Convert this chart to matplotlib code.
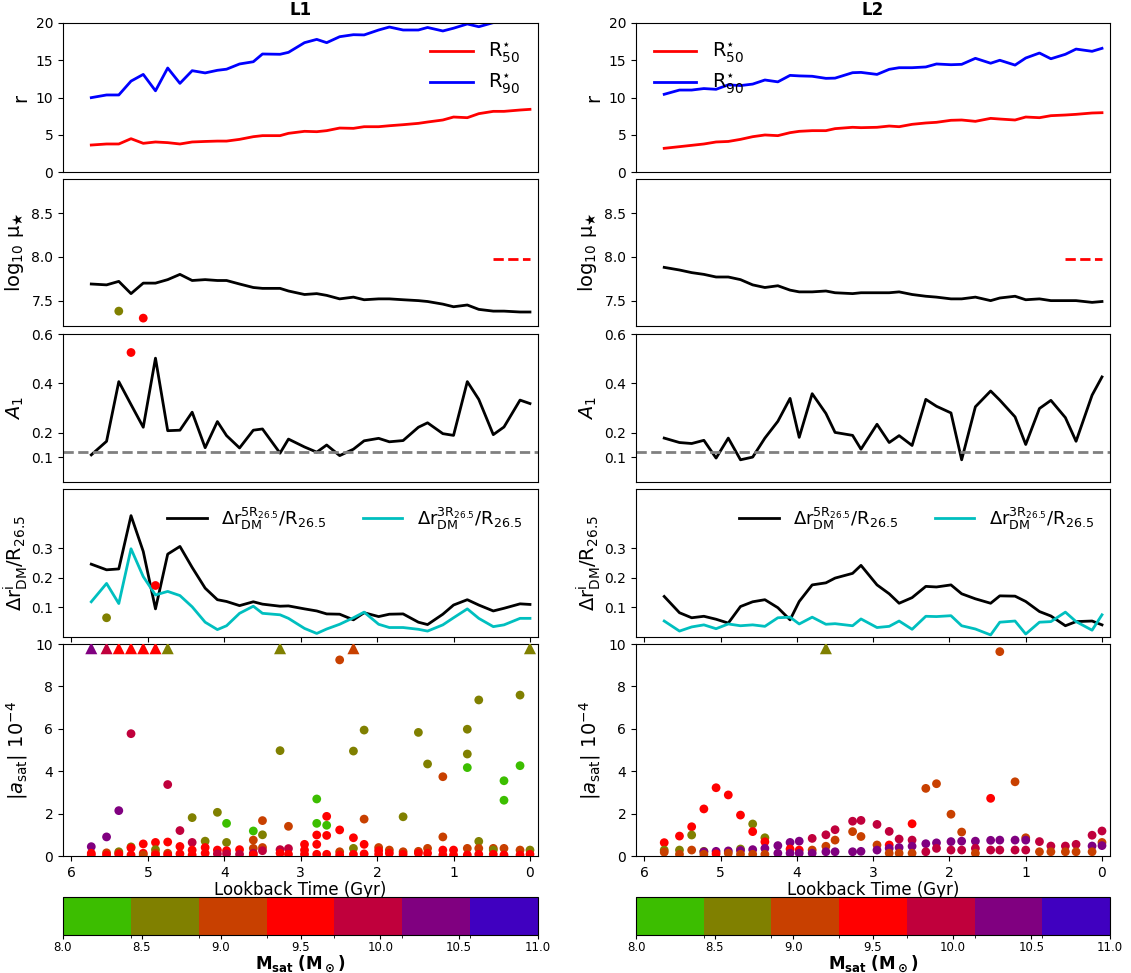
import numpy as np
import matplotlib
matplotlib.use("Agg")
from matplotlib import pyplot as plt
from matplotlib.colors import ListedColormap, BoundaryNorm
from matplotlib.cm import ScalarMappable

# lookback times of the snapshots (Gyr)
times = [5.74, 5.54, 5.38, 5.22, 5.06, 4.90, 4.74, 4.58, 4.42, 4.25,
         4.09, 3.97, 3.80, 3.62, 3.50, 3.27, 3.16, 2.95, 2.79, 2.66,
         2.49, 2.31, 2.17, 1.98, 1.84, 1.66, 1.46, 1.34, 1.14, 1.00,
         0.82, 0.67, 0.48, 0.34, 0.13, 0.0]

# ---- L1 ----
l1_r50 = [3.62, 3.76, 3.76, 4.47, 3.85, 4.03, 3.94, 3.76, 4.03, 4.10,
          4.15, 4.15, 4.38, 4.74, 4.88, 4.88, 5.19, 5.46, 5.41, 5.55,
          5.90, 5.86, 6.08, 6.08, 6.21, 6.35, 6.53, 6.71, 6.98, 7.38,
          7.29, 7.83, 8.14, 8.14, 8.32, 8.41]
l1_r90 = [9.98, 10.34, 10.34, 12.2, 13.1, 10.9, 13.96, 11.9, 13.6, 13.3,
          13.65, 13.8, 14.5, 14.8, 15.84, 15.8, 16.06, 17.36, 17.8, 17.36,
          18.16, 18.43, 18.4, 19.06, 19.46, 19.06, 19.06, 19.4, 18.93, 19.3,
          19.87, 19.5, 20.05, 20.4, 20.7, 21.0]
l1_mu = [7.69, 7.68, 7.72, 7.58, 7.70, 7.70, 7.74, 7.80, 7.73, 7.74,
         7.73, 7.73, 7.69, 7.65, 7.64, 7.64, 7.61, 7.57, 7.58, 7.56,
         7.52, 7.54, 7.51, 7.52, 7.52, 7.51, 7.50, 7.49, 7.46, 7.43,
         7.45, 7.40, 7.38, 7.38, 7.37, 7.37]
l1_a1 = [0.110, 0.165, 0.407, 0.314, 0.222, 0.502, 0.208, 0.210, 0.283, 0.139,
         0.245, 0.188, 0.138, 0.210, 0.215, 0.117, 0.174, 0.142, 0.121, 0.150,
         0.107, 0.133, 0.167, 0.177, 0.163, 0.168, 0.222, 0.240, 0.196, 0.189,
         0.407, 0.335, 0.192, 0.223, 0.332, 0.318]
l1_dr5 = [0.246, 0.227, 0.230, 0.410, 0.289, 0.095, 0.280, 0.306, 0.235, 0.165,
          0.126, 0.120, 0.106, 0.119, 0.111, 0.104, 0.105, 0.095, 0.088, 0.078,
          0.077, 0.058, 0.082, 0.069, 0.077, 0.078, 0.050, 0.042, 0.077, 0.108,
          0.126, 0.108, 0.088, 0.097, 0.112, 0.110]
l1_dr3 = [0.119, 0.181, 0.113, 0.298, 0.204, 0.142, 0.154, 0.140, 0.102, 0.050,
          0.025, 0.038, 0.080, 0.104, 0.080, 0.075, 0.063, 0.029, 0.012, 0.027,
          0.043, 0.065, 0.084, 0.043, 0.032, 0.032, 0.026, 0.020, 0.041, 0.065,
          0.095, 0.063, 0.035, 0.041, 0.063, 0.063]

# ---- L2 ----
l2_r50 = [3.18, 3.40, 3.58, 3.76, 4.03, 4.10, 4.38, 4.74, 4.97, 4.88,
          5.28, 5.46, 5.55, 5.55, 5.82, 6.00, 5.95, 6.00, 6.17, 6.08,
          6.40, 6.58, 6.67, 6.94, 6.98, 6.80, 7.20, 7.11, 6.98, 7.38,
          7.29, 7.56, 7.65, 7.74, 7.92, 7.96]
l2_r90 = [10.43, 11.0, 11.0, 11.2, 11.1, 11.7, 11.6, 11.8, 12.35, 12.1,
          12.97, 12.9, 12.85, 12.57, 12.6, 13.33, 13.37, 13.1, 13.78, 14.0,
          14.0, 14.1, 14.5, 14.4, 14.45, 15.26, 14.6, 15.0, 14.35, 15.3,
          15.97, 15.2, 15.8, 16.5, 16.2, 16.6]
l2_mu = [7.88, 7.85, 7.82, 7.80, 7.77, 7.77, 7.74, 7.68, 7.65, 7.67,
         7.62, 7.60, 7.60, 7.61, 7.59, 7.58, 7.59, 7.59, 7.59, 7.60,
         7.57, 7.55, 7.54, 7.52, 7.52, 7.54, 7.50, 7.53, 7.55, 7.51,
         7.52, 7.50, 7.50, 7.50, 7.48, 7.49]
l2_a1 = [0.178, 0.160, 0.156, 0.169, 0.097, 0.178, 0.090, 0.101, 0.178, 0.246,
         0.339, 0.181, 0.358, 0.278, 0.201, 0.189, 0.133, 0.234, 0.160, 0.188,
         0.148, 0.335, 0.307, 0.280, 0.090, 0.305, 0.369, 0.332, 0.264, 0.152,
         0.298, 0.331, 0.261, 0.165, 0.352, 0.426]
l2_dr5 = [0.137, 0.082, 0.065, 0.070, 0.060, 0.047, 0.103, 0.119, 0.126, 0.099,
          0.058, 0.120, 0.176, 0.183, 0.199, 0.215, 0.242, 0.176, 0.146, 0.114,
          0.133, 0.171, 0.169, 0.176, 0.146, 0.129, 0.114, 0.139, 0.138, 0.120,
          0.086, 0.071, 0.038, 0.052, 0.054, 0.041]
l2_dr3 = [0.054, 0.020, 0.034, 0.041, 0.028, 0.044, 0.038, 0.041, 0.036, 0.065,
          0.067, 0.044, 0.067, 0.043, 0.045, 0.038, 0.061, 0.032, 0.036, 0.054,
          0.026, 0.070, 0.069, 0.072, 0.038, 0.027, 0.007, 0.050, 0.054, 0.010,
          0.050, 0.052, 0.084, 0.052, 0.023, 0.075]

# reference surface density and A1 threshold
mu_ref = 7.98
mu_ref_times = [0.48, 0.34, 0.13, 0.0]
a1_floor = 0.12

# satellite mass classes (log Msat)
G, O, B, R, C, P, V = 8.2, 8.6, 9.1, 9.5, 9.9, 10.3, 10.8

# satellites (time, |a_sat|, mass)
l1_sats = [
    (5.74, 0.44, P), (5.74, 0.13, R), (5.74, 0.05, R),
    (5.54, 0.90, P), (5.54, 0.15, B), (5.54, 0.05, R),
    (5.38, 2.14, P), (5.38, 0.20, O), (5.38, 0.13, B), (5.38, 0.08, R),
    (5.22, 5.77, C), (5.22, 0.43, O), (5.22, 0.38, R), (5.22, 0.05, R),
    (5.06, 0.57, R), (5.06, 0.13, R), (5.06, 0.05, B),
    (4.90, 0.64, R), (4.90, 0.30, O), (4.90, 0.13, B), (4.90, 0.05, R),
    (4.74, 3.37, C), (4.74, 0.66, R), (4.74, 0.13, B), (4.74, 0.05, R),
    (4.58, 1.20, C), (4.58, 0.45, R), (4.58, 0.10, R),
    (4.42, 1.81, O), (4.42, 0.64, C), (4.42, 0.28, R), (4.42, 0.05, R),
    (4.25, 0.70, O), (4.25, 0.40, R), (4.25, 0.13, R),
    (4.09, 2.06, O), (4.09, 0.28, R), (4.09, 0.10, C),
    (3.97, 1.54, G), (3.97, 0.64, O), (3.97, 0.25, R), (3.97, 0.10, C),
    (3.80, 0.30, R), (3.80, 0.08, C),
    (3.62, 1.18, G), (3.62, 0.75, B), (3.62, 0.36, B), (3.62, 0.13, C), (3.62, 0.05, R),
    (3.50, 1.67, B), (3.50, 1.00, O), (3.50, 0.40, B), (3.50, 0.25, C),
    (3.27, 4.97, O), (3.27, 0.30, C), (3.27, 0.13, R),
    (3.16, 1.40, B), (3.16, 0.35, C), (3.16, 0.08, R),
    (2.95, 0.55, R), (2.95, 0.28, R), (2.95, 0.08, R),
    (2.79, 2.69, G), (2.79, 1.54, G), (2.79, 0.99, R), (2.79, 0.55, R), (2.79, 0.08, R),
    (2.66, 1.87, R), (2.66, 1.45, G), (2.66, 0.97, R), (2.66, 0.08, R),
    (2.49, 9.25, B), (2.49, 1.23, R), (2.49, 0.20, B), (2.49, 0.05, R),
    (2.31, 4.95, O), (2.31, 0.86, R), (2.31, 0.36, O), (2.31, 0.08, R),
    (2.17, 5.94, O), (2.17, 1.74, B), (2.17, 0.55, R), (2.17, 0.10, R),
    (1.98, 0.40, B), (1.98, 0.25, R), (1.98, 0.08, R),
    (1.84, 0.28, B), (1.84, 0.13, R),
    (1.66, 1.85, O), (1.66, 0.20, B), (1.66, 0.08, R),
    (1.46, 5.83, O), (1.46, 0.22, B), (1.46, 0.13, R),
    (1.34, 4.34, O), (1.34, 0.36, B), (1.34, 0.13, R),
    (1.14, 3.74, B), (1.14, 0.90, B), (1.14, 0.28, R), (1.14, 0.05, R),
    (1.00, 0.28, R), (1.00, 0.05, R),
    (0.82, 5.98, O), (0.82, 4.81, O), (0.82, 4.17, G), (0.82, 0.36, B), (0.82, 0.05, R),
    (0.67, 7.36, O), (0.67, 0.69, O), (0.67, 0.36, B), (0.67, 0.08, R),
    (0.48, 0.36, B), (0.48, 0.28, O), (0.48, 0.08, R),
    (0.34, 3.55, G), (0.34, 2.63, G), (0.34, 0.36, B), (0.34, 0.05, R),
    (0.13, 7.59, O), (0.13, 4.26, G), (0.13, 0.28, B), (0.13, 0.05, R),
    (0.0, 0.28, O), (0.0, 0.08, R),
]
l2_sats = [
    (5.74, 0.63, R), (5.74, 0.28, O), (5.74, 0.18, B),
    (5.54, 0.94, R), (5.54, 0.28, O), (5.54, 0.08, B),
    (5.38, 1.38, R), (5.38, 0.99, O), (5.38, 0.28, B),
    (5.22, 2.22, R), (5.22, 0.22, O), (5.22, 0.20, P), (5.22, 0.08, B),
    (5.06, 3.22, R), (5.06, 0.22, P), (5.06, 0.10, R),
    (4.90, 2.88, R), (4.90, 0.24, P), (4.90, 0.13, B),
    (4.74, 1.93, R), (4.74, 0.33, O), (4.74, 0.26, P), (4.74, 0.08, B),
    (4.58, 1.51, O), (4.58, 1.15, R), (4.58, 0.30, P), (4.58, 0.08, B),
    (4.42, 0.86, O), (4.42, 0.67, R), (4.42, 0.36, P), (4.42, 0.08, B),
    (4.25, 0.49, P), (4.25, 0.13, P),
    (4.09, 0.64, P), (4.09, 0.33, R), (4.09, 0.13, P),
    (3.97, 0.70, P), (3.97, 0.28, R), (3.97, 0.13, P),
    (3.80, 0.83, C), (3.80, 0.28, B), (3.80, 0.13, P),
    (3.62, 1.00, C), (3.62, 0.46, B), (3.62, 0.20, P),
    (3.50, 1.24, C), (3.50, 0.75, B), (3.50, 0.20, P),
    (3.27, 1.64, C), (3.27, 1.15, B), (3.27, 0.20, P),
    (3.16, 1.68, C), (3.16, 0.92, B), (3.16, 0.22, P),
    (2.95, 1.49, C), (2.95, 0.52, B), (2.95, 0.28, P),
    (2.79, 1.16, C), (2.79, 0.52, R), (2.79, 0.36, P), (2.79, 0.13, B),
    (2.66, 0.80, C), (2.66, 0.40, P), (2.66, 0.13, B),
    (2.49, 1.52, R), (2.49, 0.75, C), (2.49, 0.46, P), (2.49, 0.13, B),
    (2.31, 3.19, B), (2.31, 0.58, P), (2.31, 0.20, C),
    (2.17, 3.41, B), (2.17, 0.62, P), (2.17, 0.36, C),
    (1.98, 1.97, B), (1.98, 0.68, P), (1.98, 0.28, C),
    (1.84, 1.13, B), (1.84, 0.70, P), (1.84, 0.28, C),
    (1.66, 0.70, P), (1.66, 0.36, C), (1.66, 0.13, B),
    (1.46, 2.72, R), (1.46, 0.74, P), (1.46, 0.28, C),
    (1.34, 9.64, B), (1.34, 0.75, P), (1.34, 0.28, C),
    (1.14, 3.50, B), (1.14, 0.75, P), (1.14, 0.28, C),
    (1.00, 0.86, B), (1.00, 0.75, P), (1.00, 0.28, C),
    (0.82, 0.68, C), (0.82, 0.20, B),
    (0.67, 0.47, C), (0.67, 0.20, B),
    (0.48, 0.47, C), (0.48, 0.20, B),
    (0.34, 0.55, C), (0.34, 0.20, B),
    (0.13, 0.98, C), (0.13, 0.47, P), (0.13, 0.20, B),
    (0.0, 1.18, C), (0.0, 0.64, B), (0.0, 0.49, P),
]
# satellites beyond the plotted range, drawn as triangles at the top
a_cap = 9.8
l1_off = [(5.74, P), (5.54, C), (5.38, R), (5.22, R), (5.06, R), (4.90, R),
          (4.74, O), (3.27, O), (2.31, B), (0.0, O)]
l2_off = [(3.62, O)]

mass_colors = ['#3cbe00', '#808000', '#c84000', '#ff0000', '#c0003c', '#800080', '#4000c0']
mass_bounds = [8.0, 8.43, 8.86, 9.29, 9.71, 10.14, 10.57, 11.0]
cmap = ListedColormap(mass_colors)
norm = BoundaryNorm(mass_bounds, cmap.N)

W, H = 1131, 973
fig = plt.figure(figsize=(W / 100, H / 100), dpi=100)


def box(l, t, r, b):
    return [l / W, 1 - b / H, (r - l) / W, (b - t) / H]


rows = [(23, 172), (179, 326), (334, 482), (489, 637), (644, 856)]
cols = [(63, 538), (636, 1110)]
xlim = (6.11, -0.105)
xt = [6, 5, 4, 3, 2, 1, 0]


def column(cx, title, r50, r90, mu, a1, dr5, dr3, sats, off, leg_loc, extra):
    l, r = cx
    axs = [fig.add_axes(box(l, t, r, b)) for t, b in rows]
    for ax in axs:
        ax.set_xlim(*xlim)
        ax.set_xticks(xt)
        ax.tick_params(labelsize=10)
    for ax in axs[:3]:
        ax.tick_params(axis='x', bottom=False, labelbottom=False)
    axs[3].tick_params(axis='x', labelbottom=False)

    ax = axs[0]
    ax.plot(times, r50, 'r', lw=2, label=r'R$^{\star}_{50}$')
    ax.plot(times, r90, 'b', lw=2, label=r'R$^{\star}_{90}$')
    ax.set_ylim(0, 20)
    ax.set_yticks([0, 5, 10, 15, 20])
    ax.set_ylabel('r', fontsize=14)
    ax.legend(loc=leg_loc, frameon=False, fontsize=14, handlelength=2.2,
              labelspacing=0.35)
    ax.set_title(title, fontweight='bold', fontsize=12)

    ax = axs[1]
    ax.plot(times, mu, 'k', lw=2)
    ax.plot(mu_ref_times, [mu_ref] * len(mu_ref_times), 'r--', lw=2)
    ax.set_ylim(7.21, 8.89)
    ax.set_yticks([7.5, 8.0, 8.5])
    ax.set_ylabel(r'log$_{10}$ $\mathrm{\mu}_{\bigstar}$', fontsize=14)

    ax = axs[2]
    ax.plot(times, a1, 'k', lw=2)
    ax.axhline(a1_floor, color='gray', ls='--', lw=2)
    ax.set_ylim(0, 0.6)
    ax.set_yticks([0.1, 0.2, 0.4, 0.6])
    ax.set_ylabel(r'$A_1$', fontsize=14)

    ax = axs[3]
    ax.plot(times, dr5, 'k', lw=2, label=r'$\Delta \mathrm{r}^{5\mathrm{R}_{26.5}}_{\mathrm{DM}}/\mathrm{R}_{26.5}$')
    ax.plot(times, dr3, 'c', lw=2, label=r'$\Delta \mathrm{r}^{3\mathrm{R}_{26.5}}_{\mathrm{DM}}/\mathrm{R}_{26.5}$')
    ax.set_ylim(0, 0.5)
    ax.set_yticks([0.1, 0.2, 0.3])
    ax.set_ylabel(r'$\Delta \mathrm{r}^{\mathrm{i}}_{\mathrm{DM}}/\mathrm{R}_{26.5}$',
                  fontsize=14, labelpad=1)
    ax.legend(loc='upper right', ncol=2, frameon=False, fontsize=13,
              handlelength=2.2, columnspacing=2.0)

    # satellites that coincide with peaks in the disc diagnostics
    for k, (t, v, m) in extra:
        axs[k].scatter([t], [v], c=[m], cmap=cmap, norm=norm, s=40,
                       edgecolors='none', zorder=3)

    ax = axs[4]
    st, sa, sm = zip(*sats)
    ax.scatter(st, sa, c=sm, cmap=cmap, norm=norm, s=40, edgecolors='none', zorder=3)
    ot, om = zip(*off)
    ax.scatter(ot, [a_cap] * len(ot), c=om, cmap=cmap, norm=norm, s=75,
               marker='^', edgecolors='none', zorder=3)
    ax.set_ylim(0, 10)
    ax.set_yticks([0, 2, 4, 6, 8, 10])
    ax.set_ylabel(r'$|a_{\mathrm{sat}}|\ 10^{-4}$', fontsize=14)
    ax.set_xlabel('Lookback Time (Gyr)', fontsize=12, labelpad=1)

    cax = fig.add_axes(box(l, 897, r, 935))
    cb = fig.colorbar(ScalarMappable(norm=norm, cmap=cmap), cax=cax,
                      orientation='horizontal',
                      ticks=[8.0, 8.5, 9.0, 9.5, 10.0, 10.5, 11.0])
    cb.ax.set_xticklabels(['8.0', '8.5', '9.0', '9.5', '10.0', '10.5', '11.0'])
    cb.ax.tick_params(labelsize=8.5, pad=1, length=3)
    cb.set_label(r'$\mathbf{M_{sat}\ (M_\odot)}$', fontsize=12, labelpad=0)


column(cols[0], 'L1', l1_r50, l1_r90, l1_mu, l1_a1, l1_dr5, l1_dr3,
       l1_sats, l1_off, 'upper right',
       [(1, (5.38, 7.38, O)), (1, (5.06, 7.30, R)), (2, (5.22, 0.525, R)),
        (3, (4.90, 0.174, R)), (3, (5.54, 0.065, O))])
column(cols[1], 'L2', l2_r50, l2_r90, l2_mu, l2_a1, l2_dr5, l2_dr3,
       l2_sats, l2_off, 'upper left', [])

fig.savefig('out.png', dpi=100)
